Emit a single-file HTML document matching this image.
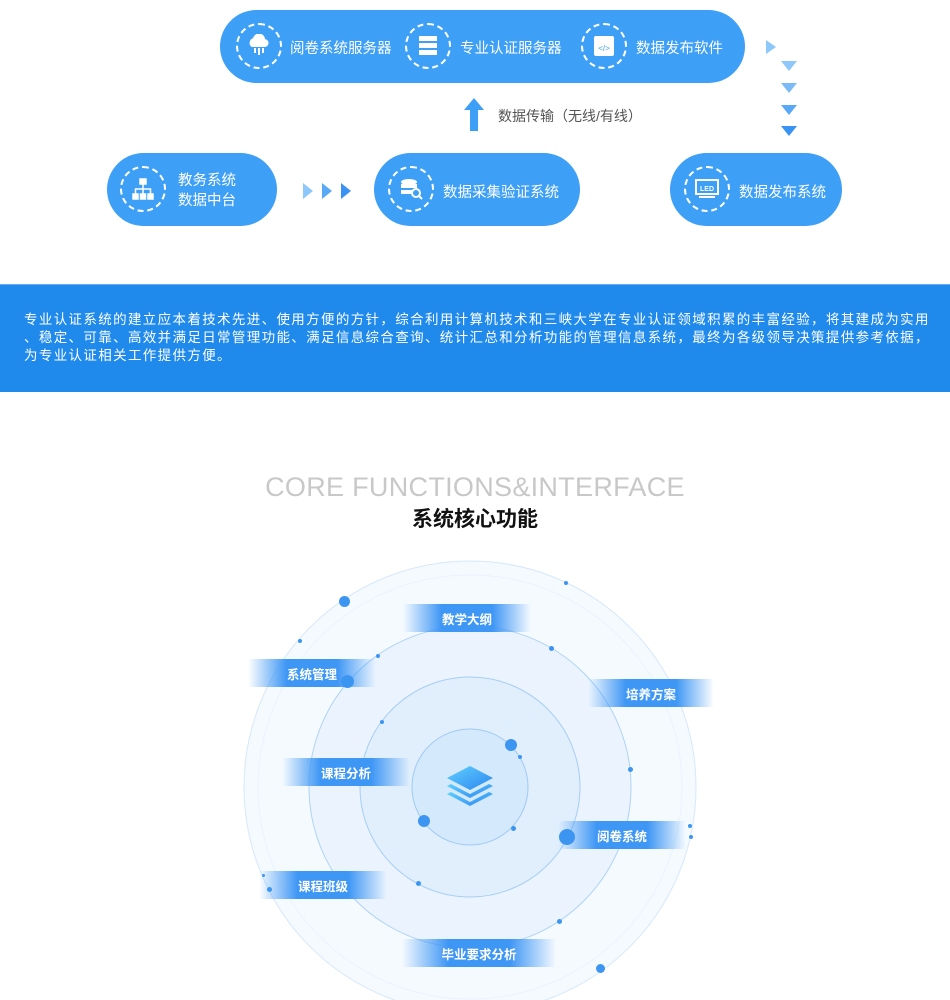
<!DOCTYPE html>
<html><head><meta charset="utf-8"><style>
*{margin:0;padding:0;box-sizing:border-box}
body{width:950px;height:1000px;background:#fff;position:relative;overflow:hidden;font-family:"Liberation Sans","Noto Sans CJK SC",sans-serif}
.pill{position:absolute;background:#3d9ff6;border-radius:37px;color:#fff;font-size:14px}
.ic{position:absolute;width:46px;height:46px;border:2px dashed #fff;border-radius:50%;display:flex;align-items:center;justify-content:center}
.t{position:absolute;white-space:nowrap;color:#fff;font-size:14.5px}
.tri{position:absolute;width:0;height:0}
.bar{position:absolute;height:28px;background:linear-gradient(90deg,rgba(61,150,245,0),#3f97f5 30%,#3f97f5 70%,rgba(61,150,245,0));color:#fff;font-size:12.5px;font-weight:bold;display:flex;align-items:center;justify-content:center}
.dot{position:absolute;border-radius:50%;background:#3d95f2}
</style></head><body>
<div class="pill" style="left:220px;top:10px;width:525px;height:73px"></div>
<div class="ic" style="left:236px;top:23px"><svg width="24" height="24" viewBox="0 0 24 24" fill="none" stroke="#fff" stroke-width="2"><path d="M5 12a4 4 0 0 1 2-7 5 5 0 0 1 10 1 3 3 0 0 1 1 6z" fill="#fff"/><path d="M8 14v5M12 14v7M16 14v5"/></svg></div>
<div class="t" style="left:290px;top:37px">阅卷系统服务器</div>
<div class="ic" style="left:405px;top:23px"><svg width="22" height="24" viewBox="0 0 22 24"><rect x="2" y="2" width="18" height="5" fill="#fff"/><rect x="2" y="9" width="18" height="5" fill="#fff"/><rect x="2" y="16" width="18" height="5" fill="#fff"/></svg></div>
<div class="t" style="left:460px;top:37px">专业认证服务器</div>
<div class="ic" style="left:581px;top:23px"><svg width="22" height="22" viewBox="0 0 22 22"><rect x="1" y="1" width="20" height="20" rx="2" fill="#fff"/><text x="11" y="16" font-size="8" fill="#3d9ff6" text-anchor="middle" font-family="Liberation Sans">&lt;/&gt;</text></svg></div>
<div class="t" style="left:636px;top:37px">数据发布软件</div>
<div class="tri" style="left:766px;top:40px;border-left:10px solid #8ec8fa;border-top:7px solid transparent;border-bottom:7px solid transparent"></div>
<div class="tri" style="left:781px;top:61px;border-top:10px solid #8ec8fa;border-left:8px solid transparent;border-right:8px solid transparent"></div>
<div class="tri" style="left:781px;top:83px;border-top:10px solid #7bbcf8;border-left:8px solid transparent;border-right:8px solid transparent"></div>
<div class="tri" style="left:781px;top:105px;border-top:10px solid #5aa9f6;border-left:8px solid transparent;border-right:8px solid transparent"></div>
<div class="tri" style="left:781px;top:126px;border-top:10px solid #3a93f2;border-left:8px solid transparent;border-right:8px solid transparent"></div>
<div class="tri" style="left:464px;top:98px;border-bottom:12px solid #3d9ff6;border-left:10px solid transparent;border-right:10px solid transparent"></div>
<div style="position:absolute;left:470px;top:109px;width:8px;height:22px;background:#3d9ff6"></div>
<div style="position:absolute;left:498px;top:106px;font-size:14px;color:#555">数据传输（无线/有线）</div>
<div class="pill" style="left:107px;top:153px;width:170px;height:73px"></div>
<div class="ic" style="left:120px;top:166px"><svg width="24" height="24" viewBox="0 0 24 24" fill="#fff" stroke="#fff" stroke-width="1.5"><rect x="9" y="2" width="6" height="5"/><rect x="2" y="17" width="5" height="5"/><rect x="9.5" y="17" width="5" height="5"/><rect x="17" y="17" width="5" height="5"/><path d="M12 7v10M4.5 17v-5h15v5" fill="none"/></svg></div>
<div class="t" style="left:178px;top:171px;line-height:20px">教务系统<br>数据中台</div>
<div class="tri" style="left:303px;top:183px;border-left:10px solid #8ec8fa;border-top:8px solid transparent;border-bottom:8px solid transparent"></div>
<div class="tri" style="left:322px;top:183px;border-left:10px solid #5aa9f6;border-top:8px solid transparent;border-bottom:8px solid transparent"></div>
<div class="tri" style="left:341px;top:183px;border-left:10px solid #3a93f2;border-top:8px solid transparent;border-bottom:8px solid transparent"></div>
<div class="pill" style="left:374px;top:153px;width:206px;height:73px"></div>
<div class="ic" style="left:388px;top:166px"><svg width="24" height="24" viewBox="0 0 24 24"><ellipse cx="10" cy="5" rx="8" ry="3" fill="#fff"/><rect x="2" y="7" width="16" height="4" fill="#fff"/><rect x="2" y="13" width="12" height="4" fill="#fff"/><circle cx="17" cy="16" r="4" fill="none" stroke="#fff" stroke-width="2"/><path d="M20 19l3 3" stroke="#fff" stroke-width="2"/></svg></div>
<div class="t" style="left:443px;top:181px">数据采集验证系统</div>
<div class="pill" style="left:670px;top:153px;width:172px;height:73px"></div>
<div class="ic" style="left:684px;top:166px"><svg width="24" height="22" viewBox="0 0 24 22"><rect x="1" y="2" width="22" height="14" fill="none" stroke="#fff" stroke-width="2"/><text x="12" y="13" font-size="7" font-weight="bold" fill="#fff" text-anchor="middle" font-family="Liberation Sans">LED</text><rect x="4" y="18" width="16" height="2" fill="#fff"/></svg></div>
<div class="t" style="left:739px;top:181px">数据发布系统</div>

<div style="position:absolute;left:0;top:284px;width:950px;height:108px;background:#1f8aec;border-top:1px solid #5fb0f5"></div>
<div style="position:absolute;left:24px;top:311px;color:#fff;font-size:13.5px;line-height:18px;letter-spacing:1.35px;white-space:nowrap">专业认证系统的建立应本着技术先进、使用方便的方针，综合利用计算机技术和三峡大学在专业认证领域积累的丰富经验，将其建成为实用<br>、稳定、可靠、高效并满足日常管理功能、满足信息综合查询、统计汇总和分析功能的管理信息系统，最终为各级领导决策提供参考依据，<br>为专业认证相关工作提供方便。</div>

<div style="position:absolute;left:0;width:950px;top:472px;text-align:center;font-size:27px;color:#c8c8c8;letter-spacing:0.3px">CORE FUNCTIONS&amp;INTERFACE</div>
<div style="position:absolute;left:0;width:950px;top:503px;text-align:center;font-size:21px;font-weight:bold;color:#111">系统核心功能</div>

<svg style="position:absolute;left:0;top:0" width="950" height="1000">
<defs><linearGradient id="lg" x1="0" y1="0" x2="1" y2="1"><stop offset="0" stop-color="#5fd0ff"/><stop offset="1" stop-color="#2e86f0"/></linearGradient></defs>
<circle cx="470" cy="787" r="226" fill="#f5faff" stroke="#d6e8fa"/>
<circle cx="470" cy="787" r="212" fill="none" stroke="#eaf3fd"/>
<circle cx="470" cy="787" r="161" fill="#ebf4fe" stroke="#aed3f6"/>
<circle cx="470" cy="787" r="110" fill="#e1effd" stroke="#a5cef5"/>
<circle cx="470" cy="787" r="58" fill="#d4e9fc" stroke="#9fcaf3"/>
<path d="M470 766l23 12-23 12-23-12z" fill="url(#lg)"/>
<path d="M451 784l-4 2 23 12 23-12-4-2-19 10z" fill="url(#lg)"/>
<path d="M451 792l-4 2 23 12 23-12-4-2-19 10z" fill="url(#lg)"/>
</svg>
<div class="bar" style="left:403px;top:604px;width:128px">教学大纲</div>
<div class="bar" style="left:248px;top:659px;width:128px">系统管理</div>
<div class="bar" style="left:588px;top:679px;width:126px">培养方案</div>
<div class="bar" style="left:282px;top:758px;width:128px">课程分析</div>
<div class="bar" style="left:558px;top:821px;width:128px">阅卷系统</div>
<div class="bar" style="left:259px;top:871px;width:128px">课程班级</div>
<div class="bar" style="left:402px;top:939px;width:154px">毕业要求分析</div>
<div class="dot" style="left:339px;top:596px;width:11px;height:11px"></div>
<div class="dot" style="left:341px;top:675px;width:13px;height:13px"></div>
<div class="dot" style="left:505px;top:739px;width:12px;height:12px"></div>
<div class="dot" style="left:418px;top:815px;width:12px;height:12px"></div>
<div class="dot" style="left:559px;top:829px;width:16px;height:16px"></div>
<div class="dot" style="left:596px;top:964px;width:9px;height:9px"></div>
<div class="dot" style="left:564px;top:581px;width:4px;height:4px"></div>
<div class="dot" style="left:298px;top:639px;width:4px;height:4px"></div>
<div class="dot" style="left:376px;top:654px;width:4px;height:4px"></div>
<div class="dot" style="left:549px;top:646px;width:5px;height:5px"></div>
<div class="dot" style="left:380px;top:720px;width:4px;height:4px"></div>
<div class="dot" style="left:518px;top:755px;width:4px;height:4px"></div>
<div class="dot" style="left:628px;top:767px;width:5px;height:5px"></div>
<div class="dot" style="left:511px;top:826px;width:5px;height:5px"></div>
<div class="dot" style="left:688px;top:824px;width:4px;height:4px"></div>
<div class="dot" style="left:689px;top:835px;width:4px;height:4px"></div>
<div class="dot" style="left:262px;top:874px;width:3px;height:3px"></div>
<div class="dot" style="left:267px;top:887px;width:5px;height:5px"></div>
<div class="dot" style="left:416px;top:881px;width:5px;height:5px"></div>
<div class="dot" style="left:557px;top:919px;width:5px;height:5px"></div>
</body></html>
